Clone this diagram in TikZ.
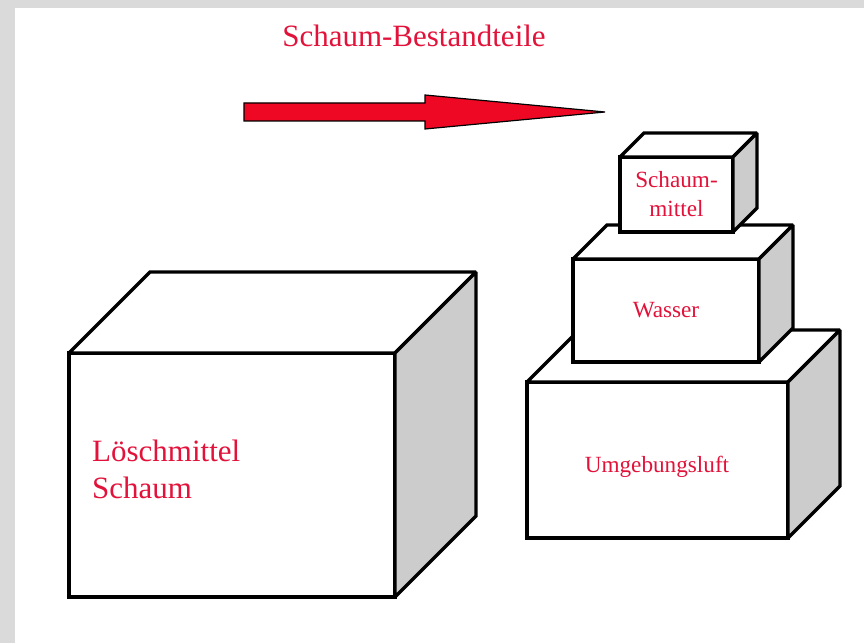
\documentclass[tikz,border=0pt]{standalone}
\usepackage{fontspec}
\setmainfont{Liberation Serif}
\usepackage{tikz}

\definecolor{txtred}{RGB}{226,18,58}
\definecolor{arrred}{RGB}{238,8,36}
\definecolor{sidegray}{RGB}{204,204,204}
\definecolor{pagegray}{RGB}{218,218,218}

\begin{document}
\begin{tikzpicture}[
      x=1pt,y=1pt,
      frontface/.style={
        draw,fill=white,line width=3.3pt,outer sep=0pt,inner sep=0pt,
        text=txtred,align=center,font=\fontsize{23.2}{29}\selectfont
      },
      topface/.style={draw,fill=white,line width=3.3pt,line join=miter,miter limit=2},
      sideface/.style={draw,fill=sidegray,line width=3.3pt,line join=miter,miter limit=2},
      smalllbl/.style={text=txtred,inner sep=0pt,font=\fontsize{23.2}{29}\selectfont},
      biglbl/.style={text=txtred,align=left,inner sep=0pt,font=\fontsize{31}{37}\selectfont},
      bigarrow/.style={draw=black,fill=arrred,line width=1.2pt,line join=miter},
    ]
    \fill[pagegray] (0,0) rectangle (864,643);
    \fill[white] (15,0) rectangle (864,635);
    \useasboundingbox (0,0) rectangle (864,643);
    % title and arrow
    \node[biglbl,anchor=base] (ttl) at (414,596) {Schaum-Bestandteile};
    \draw[bigarrow] (244,522) -- (244,540) -- (425,540) -- (425,548) -- (605,531)
      -- (425,514) -- (425,522) -- cycle;
    % Loeschmittel
    \node[frontface,minimum width=326pt,minimum height=244pt] (los) at (232,168) {};
    \draw[topface] (los.north west) -- ++(81,81) -- ++(326,0) -- (los.north east) -- cycle;
    \draw[sideface] (los.north east) -- ++(81,81) -- ++(0,-244) -- (los.south east) -- cycle;
    \node[biglbl,anchor=west] (loslbl) at ([xshift=23pt,yshift=6pt]los.west) {Löschmittel\\Schaum};
    % Umgebungsluft
    \node[frontface,minimum width=261pt,minimum height=156pt] (umg) at (657.5,183) {};
    \draw[topface] (umg.north west) -- ++(52,52) -- ++(261,0) -- (umg.north east) -- cycle;
    \draw[sideface] (umg.north east) -- ++(52,52) -- ++(0,-156) -- (umg.south east) -- cycle;
    \node[smalllbl,anchor=base] (umglbl) at (657,171) {Umgebungsluft};
    % Wasser
    \node[frontface,minimum width=186pt,minimum height=103pt] (was) at (666,332.5) {Wasser};
    \draw[topface] (was.north west) -- ++(34,34) -- ++(186,0) -- (was.north east) -- cycle;
    \draw[sideface] (was.north east) -- ++(34,34) -- ++(0,-103) -- (was.south east) -- cycle;
    % Schaummittel
    \node[frontface,minimum width=113pt,minimum height=75pt] (smi) at (676.5,448.5) {Schaum-\\mittel};
    \draw[topface] (smi.north west) -- ++(24,24) -- ++(113,0) -- (smi.north east) -- cycle;
    \draw[sideface] (smi.north east) -- ++(24,24) -- ++(0,-75) -- (smi.south east) -- cycle;
  \end{tikzpicture}
\end{document}
